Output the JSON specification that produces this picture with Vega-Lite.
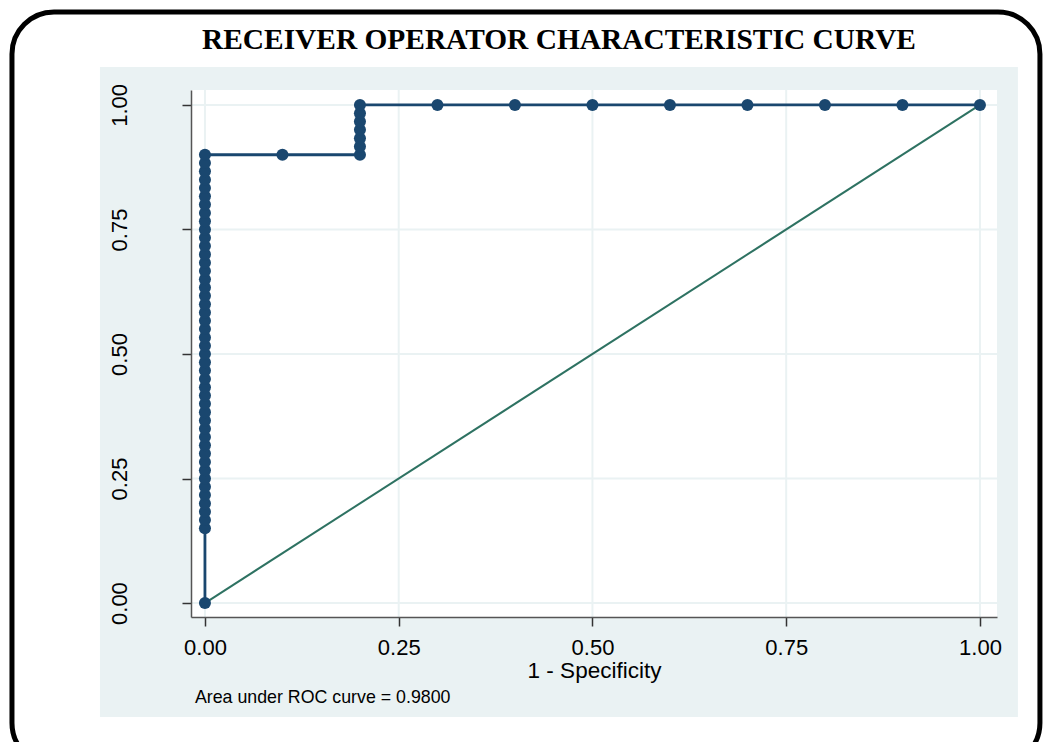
{
  "$schema": "https://vega.github.io/schema/vega-lite/v6.json",
  "width": 806,
  "height": 527,
  "autosize": "none",
  "padding": {"left": 191, "top": 90, "right": 48, "bottom": 125},
  "background": "white",
  "config": {
    "view": {"stroke": null},
    "axis": {
      "grid": false,
      "labelFont": "Liberation Sans",
      "labelFontSize": 22,
      "labelColor": "#000000",
      "tickColor": "#333333",
      "tickSize": 9,
      "tickWidth": 1.5,
      "domainColor": "#555555",
      "domainWidth": 1.5,
      "titleFont": "Liberation Sans",
      "titleFontSize": 22.5,
      "titleFontWeight": "normal",
      "titleColor": "#000000"
    }
  },
  "datasets": {
    "roc": [
      {"i": 1, "fpr": 0, "tpr": 0},
      {"i": 2, "fpr": 0, "tpr": 0.15},
      {"i": 3, "fpr": 0, "tpr": 0.1667},
      {"i": 4, "fpr": 0, "tpr": 0.1833},
      {"i": 5, "fpr": 0, "tpr": 0.2},
      {"i": 6, "fpr": 0, "tpr": 0.2167},
      {"i": 7, "fpr": 0, "tpr": 0.2333},
      {"i": 8, "fpr": 0, "tpr": 0.25},
      {"i": 9, "fpr": 0, "tpr": 0.2667},
      {"i": 10, "fpr": 0, "tpr": 0.2833},
      {"i": 11, "fpr": 0, "tpr": 0.3},
      {"i": 12, "fpr": 0, "tpr": 0.3167},
      {"i": 13, "fpr": 0, "tpr": 0.3333},
      {"i": 14, "fpr": 0, "tpr": 0.35},
      {"i": 15, "fpr": 0, "tpr": 0.3667},
      {"i": 16, "fpr": 0, "tpr": 0.3833},
      {"i": 17, "fpr": 0, "tpr": 0.4},
      {"i": 18, "fpr": 0, "tpr": 0.4167},
      {"i": 19, "fpr": 0, "tpr": 0.4333},
      {"i": 20, "fpr": 0, "tpr": 0.45},
      {"i": 21, "fpr": 0, "tpr": 0.4667},
      {"i": 22, "fpr": 0, "tpr": 0.4833},
      {"i": 23, "fpr": 0, "tpr": 0.5},
      {"i": 24, "fpr": 0, "tpr": 0.5167},
      {"i": 25, "fpr": 0, "tpr": 0.5333},
      {"i": 26, "fpr": 0, "tpr": 0.55},
      {"i": 27, "fpr": 0, "tpr": 0.5667},
      {"i": 28, "fpr": 0, "tpr": 0.5833},
      {"i": 29, "fpr": 0, "tpr": 0.6},
      {"i": 30, "fpr": 0, "tpr": 0.6167},
      {"i": 31, "fpr": 0, "tpr": 0.6333},
      {"i": 32, "fpr": 0, "tpr": 0.65},
      {"i": 33, "fpr": 0, "tpr": 0.6667},
      {"i": 34, "fpr": 0, "tpr": 0.6833},
      {"i": 35, "fpr": 0, "tpr": 0.7},
      {"i": 36, "fpr": 0, "tpr": 0.7167},
      {"i": 37, "fpr": 0, "tpr": 0.7333},
      {"i": 38, "fpr": 0, "tpr": 0.75},
      {"i": 39, "fpr": 0, "tpr": 0.7667},
      {"i": 40, "fpr": 0, "tpr": 0.7833},
      {"i": 41, "fpr": 0, "tpr": 0.8},
      {"i": 42, "fpr": 0, "tpr": 0.8167},
      {"i": 43, "fpr": 0, "tpr": 0.8333},
      {"i": 44, "fpr": 0, "tpr": 0.85},
      {"i": 45, "fpr": 0, "tpr": 0.8667},
      {"i": 46, "fpr": 0, "tpr": 0.8833},
      {"i": 47, "fpr": 0, "tpr": 0.9},
      {"i": 48, "fpr": 0.1, "tpr": 0.9},
      {"i": 49, "fpr": 0.2, "tpr": 0.9},
      {"i": 50, "fpr": 0.2, "tpr": 0.9167},
      {"i": 51, "fpr": 0.2, "tpr": 0.9333},
      {"i": 52, "fpr": 0.2, "tpr": 0.95},
      {"i": 53, "fpr": 0.2, "tpr": 0.9667},
      {"i": 54, "fpr": 0.2, "tpr": 0.9833},
      {"i": 55, "fpr": 0.2, "tpr": 1.0},
      {"i": 56, "fpr": 0.3, "tpr": 1.0},
      {"i": 57, "fpr": 0.4, "tpr": 1.0},
      {"i": 58, "fpr": 0.5, "tpr": 1.0},
      {"i": 59, "fpr": 0.6, "tpr": 1.0},
      {"i": 60, "fpr": 0.7, "tpr": 1.0},
      {"i": 61, "fpr": 0.8, "tpr": 1.0},
      {"i": 62, "fpr": 0.9, "tpr": 1.0},
      {"i": 63, "fpr": 1.0, "tpr": 1.0}
    ],
    "diag": [{"fpr": 0, "tpr": 0}, {"fpr": 1, "tpr": 1}],
    "grid": [{"g": 0}, {"g": 0.25}, {"g": 0.5}, {"g": 0.75}, {"g": 1}],
    "one": [{"k": 1}]
  },
  "layer": [
    {
      "data": {"name": "one"},
      "mark": {"type": "rect", "fill": "#EAF2F3", "clip": false},
      "encoding": {
        "x": {"datum": -0.1355, "type": "quantitative", "scale": {"domain": [-0.018, 1.022], "nice": false, "zero": false}},
        "x2": {"datum": 1.049},
        "y": {"datum": 1.0761, "type": "quantitative", "scale": {"domain": [-0.028, 1.030], "nice": false, "zero": false}},
        "y2": {"datum": -0.2289}
      }
    },
    {
      "data": {"name": "one"},
      "mark": {"type": "rect", "fill": "#FFFFFF", "clip": false},
      "encoding": {
        "x": {"datum": -0.018, "type": "quantitative"},
        "x2": {"datum": 1.022},
        "y": {"datum": 1.030, "type": "quantitative"},
        "y2": {"datum": -0.028}
      }
    },
    {
      "data": {"name": "grid"},
      "mark": {"type": "rule", "color": "#EAF2F3", "strokeWidth": 2},
      "encoding": {"x": {"field": "g", "type": "quantitative"}}
    },
    {
      "data": {"name": "grid"},
      "mark": {"type": "rule", "color": "#EAF2F3", "strokeWidth": 2},
      "encoding": {"y": {"field": "g", "type": "quantitative"}}
    },
    {
      "data": {"name": "diag"},
      "mark": {"type": "line", "color": "#2E7262", "strokeWidth": 2},
      "encoding": {
        "x": {"field": "fpr", "type": "quantitative"},
        "y": {"field": "tpr", "type": "quantitative"}
      }
    },
    {
      "data": {"name": "roc"},
      "mark": {"type": "line", "color": "#1A476F", "strokeWidth": 2.8},
      "encoding": {
        "x": {"field": "fpr", "type": "quantitative"},
        "y": {"field": "tpr", "type": "quantitative"},
        "order": {"field": "i", "type": "quantitative"}
      }
    },
    {
      "data": {"name": "roc"},
      "mark": {"type": "point", "filled": true, "opacity": 1, "color": "#1A476F", "size": 145, "shape": "circle"},
      "encoding": {
        "x": {
          "field": "fpr", "type": "quantitative",
          "scale": {"domain": [-0.018, 1.022], "nice": false, "zero": false},
          "axis": {"zindex": 1, "values": [0, 0.25, 0.5, 0.75, 1], "format": ".2f", "title": "1 - Specificity", "labelPadding": 11, "titlePadding": 1}
        },
        "y": {
          "field": "tpr", "type": "quantitative",
          "scale": {"domain": [-0.028, 1.030], "nice": false, "zero": false},
          "axis": {"zindex": 1, "values": [0, 0.25, 0.5, 0.75, 1], "format": ".2f", "title": null, "labelAngle": -90, "labelAlign": "center", "labelBaseline": "bottom", "labelPadding": 51}
        }
      }
    },
    {
      "data": {"name": "one"},
      "mark": {"type": "rect", "fill": null, "fillOpacity": 0, "stroke": "#000000", "strokeWidth": 5, "cornerRadius": 42, "clip": false},
      "encoding": {
        "x": {"datum": -0.249, "type": "quantitative"},
        "x2": {"datum": 1.0774},
        "y": {"datum": 1.1865, "type": "quantitative"},
        "y2": {"datum": -0.325}
      }
    },
    {
      "data": {"name": "one"},
      "mark": {"type": "text", "align": "left", "baseline": "middle", "font": "Liberation Sans", "fontSize": 17.8, "color": "#000000", "clip": false},
      "encoding": {
        "x": {"datum": -0.0129, "type": "quantitative"},
        "y": {"datum": -0.1907, "type": "quantitative"},
        "text": {"value": "Area under ROC curve = 0.9800"}
      }
    },
    {
      "data": {"name": "one"},
      "mark": {"type": "text", "align": "center", "baseline": "alphabetic", "font": "Liberation Serif", "fontWeight": "bold", "fontSize": 29.4, "color": "#000000", "clip": false},
      "encoding": {
        "x": {"datum": 0.4568, "type": "quantitative"},
        "y": {"datum": 1.112, "type": "quantitative"},
        "text": {"value": "RECEIVER OPERATOR CHARACTERISTIC CURVE"}
      }
    }
  ]
}
